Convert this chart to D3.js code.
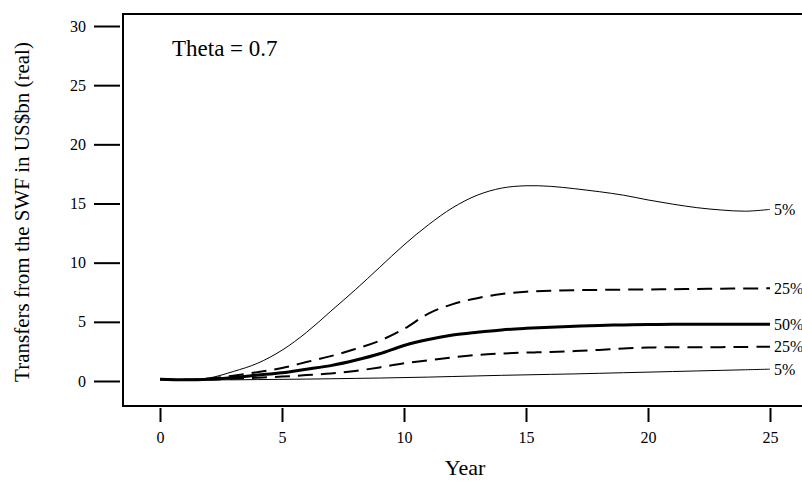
<!DOCTYPE html>
<html>
<head>
<meta charset="utf-8">
<script src="https://cdn.jsdelivr.net/npm/d3@7"></script>
<style>
  html, body { margin: 0; padding: 0; background: #fff; }
  svg { display: block; }
  text { font-family: "Liberation Serif", "Times New Roman", serif; fill: #000; }
</style>
</head>
<body>
<svg id="chart" width="802" height="481"></svg>
<script>
// ---- data ----
const years = d3.range(0, 26);
const upper5  = [0.15,0.1,0.25,0.8,1.5,2.6,4.1,5.9,7.7,9.6,11.5,13.2,14.65,15.7,16.3,16.5,16.45,16.25,16.0,15.7,15.3,14.95,14.65,14.45,14.35,14.5];
const upper25 = [0.15,0.1,0.2,0.45,0.75,1.1,1.6,2.1,2.7,3.4,4.4,5.7,6.5,7.0,7.35,7.55,7.62,7.68,7.7,7.72,7.74,7.76,7.78,7.8,7.82,7.83];
const median  = [0.15,0.1,0.15,0.3,0.5,0.7,1.0,1.3,1.75,2.3,3.0,3.5,3.88,4.12,4.32,4.45,4.55,4.63,4.7,4.74,4.77,4.79,4.8,4.8,4.8,4.8];
const lower25 = [0.15,0.1,0.12,0.2,0.28,0.37,0.5,0.63,0.85,1.15,1.5,1.75,2.0,2.2,2.32,2.4,2.45,2.53,2.63,2.75,2.83,2.85,2.85,2.86,2.88,2.9];
const lower5  = [0.15,0.1,0.1,0.1,0.12,0.14,0.16,0.19,0.22,0.25,0.29,0.33,0.38,0.43,0.48,0.52,0.56,0.6,0.65,0.7,0.75,0.8,0.85,0.9,0.95,1.0];
const seriesNames = ["5%","25%","50%","25%","5%"];
const xTicks = [0,5,10,15,20,25];
const yTicks = [0,5,10,15,20,25,30];
const titleText = "Theta = 0.7";
const xLabel = "Year";
const yLabel = "Transfers from the SWF in US$bn (real)";

// ---- styles ----
const styles = [
  {w:1, dash:null},
  {w:2, dash:"15,8"},
  {w:3, dash:null},
  {w:2, dash:"15,8"},
  {w:1, dash:null}
];
const allSeries = [upper5, upper25, median, lower25, lower5];

const svg = d3.select("#chart");
const x = d3.scaleLinear().domain([0,25]).range([160,770]);
const y = d3.scaleLinear().domain([0,30]).range([381,26]);

// box
svg.append("rect").attr("x",123).attr("y",14).attr("width",700).attr("height",392)
  .attr("fill","none").attr("stroke","#000").attr("stroke-width",2);

// y axis
const yAxis = svg.append("g").attr("transform","translate(120,0)")
  .call(d3.axisLeft(y).tickValues(yTicks).tickSize(26).tickPadding(8).tickFormat(d3.format("d")));
yAxis.select(".domain").remove();
yAxis.selectAll("line").attr("stroke-width",2);
yAxis.selectAll("text").attr("font-size",16).style("font-family","Liberation Serif");

// x axis
const xAxis = svg.append("g").attr("transform","translate(0,408)")
  .call(d3.axisBottom(x).tickValues(xTicks).tickSize(14).tickPadding(10).tickFormat(d3.format("d")));
xAxis.select(".domain").remove();
xAxis.selectAll("line").attr("stroke-width",2);
xAxis.selectAll("text").attr("font-size",16).style("font-family","Liberation Serif");

// lines
const line = d3.line().x((d,i)=>x(years[i])).y(d=>y(d)).curve(d3.curveCatmullRom.alpha(0.5));
allSeries.forEach((s,k)=>{
  svg.append("path").datum(s).attr("d",line).attr("fill","none")
    .attr("stroke","#000").attr("stroke-width",styles[k].w)
    .attr("stroke-dasharray",styles[k].dash);
  svg.append("text").attr("x",x(25)+4).attr("y",y(s[s.length-1]))
    .attr("dy","0.35em").attr("font-size",16).text(seriesNames[k]);
});

// labels
svg.append("text").attr("x",172).attr("y",56).attr("font-size",23).text(titleText);
svg.append("text").attr("x",465).attr("y",475).attr("text-anchor","middle").attr("font-size",22).text(xLabel);
svg.append("text").attr("transform","translate(29,212) rotate(-90)").attr("text-anchor","middle")
  .attr("font-size",21).text(yLabel);
</script>
</body>
</html>
